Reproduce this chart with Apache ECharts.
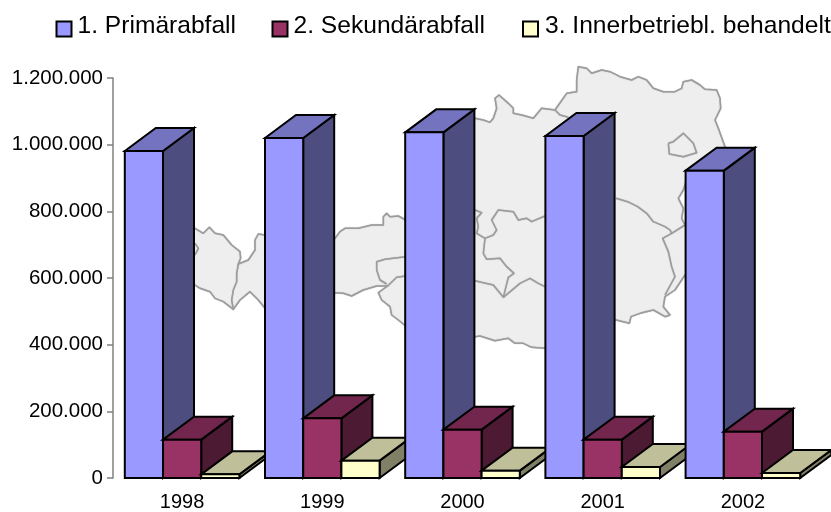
<!DOCTYPE html>
<html>
<head>
<meta charset="utf-8">
<style>html,body{margin:0;padding:0;background:#fff}#c{width:831px;height:512px}</style>
<script src="https://cdn.jsdelivr.net/npm/echarts@6/dist/echarts.min.js"></script>
</head>
<body>
<div id="c"></div>
<script>
const categories = ['1998', '1999', '2000', '2001', '2002'];
const primaer = [981000, 1020000, 1037000, 1026000, 922000];
const sekundaer = [115000, 179000, 145000, 115000, 139000];
const innerbetrieblich = [11000, 52000, 22000, 33000, 15000];
const seriesNames = ['1. Primärabfall', '2. Sekundärabfall', '3. Innerbetriebl. behandelt'];
const yTicks = { min: 0, max: 1200000, interval: 200000 };

// Decorative backdrop: outline of Austria (third-pixel units per region)
const P = (ox, oy, pts) => pts.map(p => [ox + p[0] / 3, oy + p[1] / 3]);
const mapOutline = [].concat(
  P(190, 210, [[-40,60],[15,55],[40,70],[58,52],[75,70],[100,75],[125,105],[150,125],[152,145],[145,162],[175,150],[195,120],[195,90],[205,72],[225,75],[260,80]]),
  P(335, 200, [[-10,120],[0,115],[15,95],[30,85],[70,85],[110,75],[145,75],[145,50],[155,40],[165,50],[190,48],[212,60]]),
  P(475, 60, [[0,175],[25,180],[45,187],[55,175],[65,145],[60,115],[72,105],[100,130],[115,145],[115,160],[140,165],[175,175],[200,145],[240,150],[275,100],[305,95],[305,60],[310,20],[335,25],[350,40],[380,30]]),
  P(610, 60, [[0,35],[30,50],[65,60],[85,50],[110,60],[130,85],[160,95],[195,95],[215,85],[220,65],[245,60],[270,75],[285,88],[320,90],[330,115],[332,145],[315,180],[325,205],[345,260],[360,300]]),
  P(640, 130, [[138,155],[130,180],[115,205],[130,235],[125,265],[135,285],[170,300],[170,430],[135,435],[105,480],[75,500],[70,530],[90,555],[75,560],[40,540],[0,550]]),
  P(411, 60, [[660,770],[655,790],[615,780],[540,780]]),
  P(470, 190, [[300,500],[225,475],[185,472],[160,460],[135,460],[115,445],[75,452],[30,438],[15,440]]),
  P(335, 200, [[300,400],[212,378],[190,360],[170,345],[165,320],[140,300],[130,278],[158,258],[125,258],[85,270],[50,288],[25,280],[0,278],[-20,278]]),
  P(190, 210, [[260,310],[225,295],[205,270],[180,245],[150,270],[130,298],[100,275],[75,265],[60,245],[30,235],[15,225],[-40,225]])
);
const mapBorders = [
  P(190, 210, [[15,100],[25,115],[15,135]]),
  P(190, 210, [[145,162],[140,190],[140,215],[130,240],[125,270],[130,298]]),
  P(335, 200, [[155,252],[135,240],[125,210],[125,185],[150,178],[212,170]]),
  P(335, 200, [[158,258],[185,232],[212,228]]),
  P(470, 190, [[15,60],[35,68],[20,85],[25,110],[20,130],[45,145],[40,190],[50,208],[90,205],[110,230],[132,250],[115,262],[100,322],[70,285],[40,278],[15,272]]),
  P(470, 190, [[45,145],[70,135],[80,120],[65,90],[85,60],[130,65],[145,90],[170,85],[185,95],[225,78]]),
  P(470, 190, [[100,322],[150,280],[180,265],[205,280],[225,290]]),
  P(475, 60, [[240,150],[255,165],[280,172]]),
  P(411, 60, [[615,415],[650,425],[680,440]]).concat(P(640, 130, [[20,250],[40,275],[75,290],[90,300],[95,310],[68,325],[85,365],[95,410],[105,440],[75,495]])),
  P(640, 130, [[95,310],[135,285]]),
  P(640, 130, [[85,40],[100,35],[130,10],[160,40],[170,68],[130,80],[88,72],[85,40]])
];

const palette = [
  { front: '#9999FF', top: '#7373BF', side: '#4D4D80' },
  { front: '#993366', top: '#73264D', side: '#4D1A33' },
  { front: '#FFFFCC', top: '#BFBF99', side: '#808066' }
];
const depthX = 31, depthY = 23;

function renderer(si) {
  return function (params, api) {
    const i = api.value(0);
    const v = api.value(1);
    const cx = api.coord([i, 0])[0];
    const y0 = api.coord([i, 0])[1];
    const y1 = api.coord([i, v])[1];
    const bw = api.size([1, 0])[0] / 3.67;
    const x0 = cx - 1 - 1.5 * bw + si * bw;
    const x1 = x0 + bw;
    const c = palette[si];
    const z2 = i * 10 + si;
    const style = f => ({ fill: f, stroke: '#000', lineWidth: 2, lineJoin: 'miter' });
    return {
      type: 'group',
      children: [
        { type: 'polygon', z2, shape: { points: [[x1, y0], [x1 + depthX, y0 - depthY], [x1 + depthX, y1 - depthY], [x1, y1]] }, style: style(c.side) },
        { type: 'polygon', z2, shape: { points: [[x0, y1], [x0 + depthX, y1 - depthY], [x1 + depthX, y1 - depthY], [x1, y1]] }, style: style(c.top) },
        { type: 'polygon', z2, shape: { points: [[x0, y0], [x0, y1], [x1, y1], [x1, y0]] }, style: style(c.front) }
      ]
    };
  };
}

const toSeries = (vals, si) => ({
  type: 'custom',
  name: seriesNames[si],
  coordinateSystem: 'cartesian2d',
  clip: false,
  itemStyle: { color: palette[si].front },
  encode: { x: 0, y: 1 },
  data: vals.map((v, i) => [i, v]),
  renderItem: renderer(si)
});

const legendSpec = [
  { left: 55.5, pad: 1 },
  { left: 271.5, pad: 1 },
  { left: 522, pad: 2 }
];

const chart = echarts.init(document.getElementById('c'), null, { renderer: 'canvas' });
const mapLine = { stroke: '#9C9C9C', lineWidth: 1.5, lineJoin: 'round', shadowBlur: 1, shadowColor: '#AAAAAA' };
chart.setOption({
  animation: false,
  backgroundColor: '#fff',
  textStyle: { fontFamily: 'Liberation Sans' },
  legend: seriesNames.map((n, i) => ({
    data: [n],
    left: legendSpec[i].left,
    top: 13.5,
    padding: 0,
    icon: 'rect',
    itemWidth: 15,
    itemHeight: 15,
    selectedMode: false,
    itemStyle: { borderColor: '#000', borderWidth: 2 },
    formatter: '{a|{name}}',
    textStyle: {
      rich: {
        a: { fontFamily: 'Liberation Sans', fontSize: 24.6, color: '#000', padding: [0, 0, 6, legendSpec[i].pad] }
      }
    }
  })),
  grid: { left: 113, top: 78, width: 701, height: 400 },
  xAxis: {
    type: 'category',
    data: categories,
    boundaryGap: true,
    axisLine: { show: false },
    axisTick: { show: false },
    axisLabel: { fontSize: 20, color: '#000', margin: 14, padding: [0, 2, 0, 0], fontFamily: 'Liberation Sans' }
  },
  yAxis: {
    type: 'value',
    min: yTicks.min,
    max: yTicks.max,
    interval: yTicks.interval,
    splitLine: { show: false },
    axisLine: { show: true, lineStyle: { color: '#808080', width: 1.5 } },
    axisTick: { show: true, length: 6, lineStyle: { color: '#808080', width: 1.5 } },
    axisLabel: {
      fontSize: 20.5, color: '#000', margin: 10, fontFamily: 'Liberation Sans',
      formatter: v => String(v).replace(/\B(?=(\d{3})+$)/g, '.')
    }
  },
  graphic: {
    elements: [
      { type: 'polygon', silent: true, z: -1, shape: { points: mapOutline }, style: Object.assign({ fill: '#EEEEEE' }, mapLine) }
    ].concat(mapBorders.map(pts => ({
      type: 'polyline', silent: true, z: -1, shape: { points: pts }, style: Object.assign({ fill: null }, mapLine)
    })))
  },
  series: [primaer, sekundaer, innerbetrieblich].map(toSeries)
});
</script>
</body>
</html>
